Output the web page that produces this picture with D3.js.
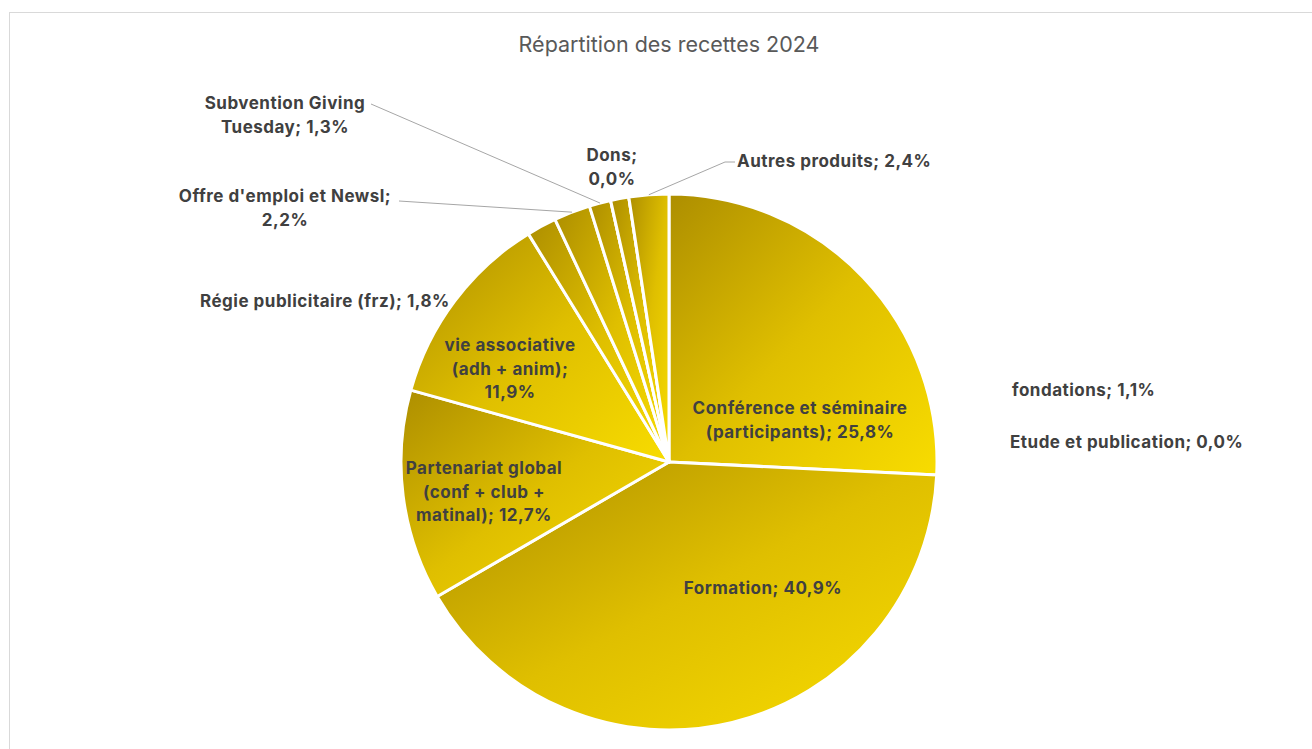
<!DOCTYPE html>
<html>
<head>
<meta charset="utf-8">
<script src="https://cdn.jsdelivr.net/npm/d3@7"></script>
<style>
  body { margin: 0; background: #fff; }
  svg { font-family: Inter, "Noto Sans", sans-serif; }
</style>
</head>
<body>
<svg id="chart" width="1312" height="749"></svg>
<script>
const categories = [
  "Conférence et séminaire (participants)",
  "Formation",
  "Partenariat global (conf + club + matinal)",
  "vie associative (adh + anim)",
  "Régie publicitaire (frz)",
  "Offre d'emploi et Newsl",
  "Subvention Giving Tuesday",
  "Dons",
  "fondations",
  "Etude et publication",
  "Autres produits"
];
const values = [25.8, 40.9, 12.7, 11.9, 1.8, 2.2, 1.3, 0.0, 1.1, 0.0, 2.4];
const labelLines = [
  ["Conférence et séminaire", "(participants); 25,8%"],
  ["Formation; 40,9%"],
  ["Partenariat global", "(conf + club +", "matinal); 12,7%"],
  ["vie associative", "(adh + anim);", "11,9%"],
  ["Régie publicitaire (frz); 1,8%"],
  ["Offre d'emploi et Newsl;", "2,2%"],
  ["Subvention Giving", "Tuesday; 1,3%"],
  ["Dons;", "0,0%"],
  ["fondations; 1,1%"],
  ["Etude et publication; 0,0%"],
  ["Autres produits; 2,4%"]
];

// label placement (x, baseline of first line, anchor, leader start / elbow)
const layout = [
  { x: 800, y: 414, anchor: "middle" },
  { x: 763, y: 594, anchor: "middle" },
  { x: 484, y: 474, anchor: "middle" },
  { x: 510, y: 351, anchor: "middle" },
  { x: 200, y: 307, anchor: "start" },
  { x: 285, y: 202, anchor: "middle", leader: [399, 201] },
  { x: 285, y: 109, anchor: "middle", leader: [371, 104] },
  { x: 612, y: 161, anchor: "middle" },
  { x: 1012, y: 396, anchor: "start" },
  { x: 1010, y: 448, anchor: "start" },
  { x: 737, y: 167, anchor: "start", leader: [735, 162], elbow: [725, 162] }
];

const cx = 669, cy = 462, radius = 268;
const lineH = 23.5;

const svg = d3.select("#chart");

svg.append("rect")
  .attr("x", 9.5).attr("y", 12.5)
  .attr("width", 1400).attr("height", 800)
  .attr("fill", "#fff")
  .attr("stroke", "#d9d9d9")
  .attr("stroke-width", 1);

svg.append("text")
  .attr("x", cx).attr("y", 52)
  .attr("text-anchor", "middle")
  .attr("font-size", "21.5px")
  .attr("fill", "#595959")
  .text("Répartition des recettes 2024");

const pie = d3.pie().sort(null).value(d => d);
const arcs = pie(values);
const arc = d3.arc().innerRadius(0).outerRadius(radius);

const defs = svg.append("defs");
arcs.forEach((a, i) => {
  const gr = defs.append("linearGradient")
    .attr("id", "grad" + i)
    .attr("x1", 0).attr("y1", 0).attr("x2", 1).attr("y2", 1);
  gr.append("stop").attr("offset", "0%").attr("stop-color", "#ad8e00");
  gr.append("stop").attr("offset", "50%").attr("stop-color", "#dfbf00");
  gr.append("stop").attr("offset", "100%").attr("stop-color", "#f8dc00");
});

const g = svg.append("g").attr("transform", `translate(${cx},${cy})`);

g.selectAll("path")
  .data(arcs)
  .enter()
  .append("path")
  .attr("d", arc)
  .attr("fill", (d, i) => `url(#grad${i})`)
  .attr("stroke", "#fff")
  .attr("stroke-width", 3)
  .attr("stroke-linejoin", "round");

// leader lines
const edge = d3.arc().innerRadius(radius).outerRadius(radius);
arcs.forEach((a, i) => {
  const l = layout[i];
  if (!l.leader) return;
  const p = edge.centroid(a);
  const pts = [l.leader];
  if (l.elbow) pts.push(l.elbow);
  pts.push([p[0] + cx, p[1] + cy]);
  svg.append("path")
    .attr("d", d3.line()(pts))
    .attr("fill", "none")
    .attr("stroke", "#a6a6a6")
    .attr("stroke-width", 1);
});

svg.selectAll("text.lbl")
  .data(arcs)
  .enter()
  .append("text")
  .attr("class", "lbl")
  .attr("x", (d, i) => layout[i].x)
  .attr("y", (d, i) => layout[i].y)
  .attr("text-anchor", (d, i) => layout[i].anchor)
  .attr("font-size", "17px")
  .attr("font-weight", 700)
  .attr("letter-spacing", "0.5px")
  .attr("fill", "#404040")
  .each(function(d, i) {
    const t = d3.select(this);
    labelLines[i].forEach((line, k) => {
      t.append("tspan")
        .attr("x", layout[i].x)
        .attr("dy", k === 0 ? 0 : lineH)
        .text(line);
    });
  });
</script>
</body>
</html>
